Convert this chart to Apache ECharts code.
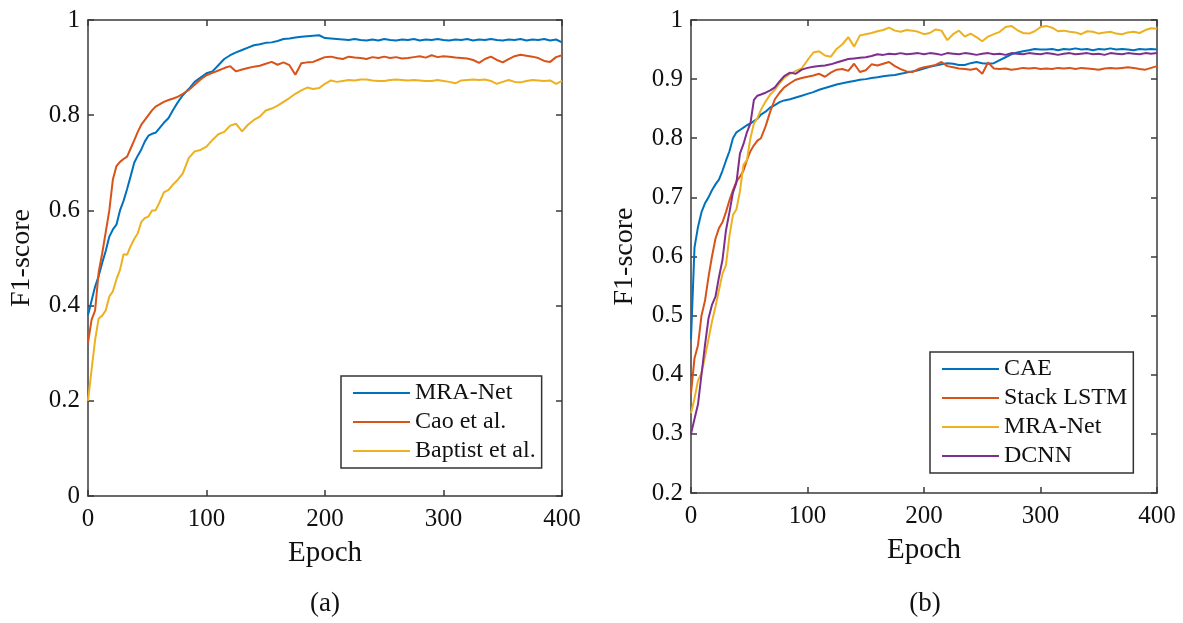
<!DOCTYPE html>
<html>
<head>
<meta charset="utf-8">
<script src="https://cdn.jsdelivr.net/npm/echarts@6.0.0/dist/echarts.min.js"></script>
<style>
  html, body { margin: 0; padding: 0; background: #fff; }
  #chartMain { width: 1183px; height: 623px; }
</style>
</head>
<body>
<div id="chartMain"></div>
<script>
// epochs shared by both panels
const epochs = [0, 3, 6, 9, 12, 15, 18, 21, 24, 27, 30, 33, 36, 39, 42, 45, 48, 51, 54, 57,
  60, 64, 68, 72, 76, 80, 85, 90, 95, 100,
  105, 110, 115, 120, 125, 130, 135, 140, 145, 150, 155, 160, 165, 170, 175, 180, 185, 190, 195, 200,
  205, 210, 215, 220, 225, 230, 235, 240, 245, 250, 255, 260, 265, 270, 275, 280, 285, 290, 295, 300,
  305, 310, 315, 320, 325, 330, 335, 340, 345, 350, 355, 360, 365, 370, 375, 380, 385, 390, 395, 400];

const xTicks = [0, 100, 200, 300, 400];

// panel (a)
const namesA = ['MRA-Net', 'Cao et al.', 'Baptist et al.'];
const mraNetA = [0.38, 0.41, 0.44, 0.462, 0.49, 0.515, 0.545, 0.56, 0.57, 0.60, 0.62, 0.645, 0.672, 0.70, 0.715, 0.728, 0.745, 0.757, 0.761, 0.763,
  0.772, 0.784, 0.794, 0.812, 0.828, 0.842, 0.855, 0.87, 0.879, 0.888,
  0.892, 0.905, 0.918, 0.926, 0.932, 0.937, 0.942, 0.947, 0.949, 0.952,
  0.953, 0.956, 0.96, 0.961, 0.963, 0.965, 0.966, 0.967, 0.968, 0.962,
  0.961, 0.96, 0.959, 0.958, 0.96, 0.958, 0.957, 0.959, 0.957, 0.96,
  0.958, 0.957, 0.959, 0.958, 0.96, 0.957, 0.959, 0.958, 0.96, 0.958,
  0.957, 0.959, 0.958, 0.96, 0.957, 0.959, 0.958, 0.96, 0.958, 0.957,
  0.959, 0.958, 0.96, 0.957, 0.959, 0.958, 0.96, 0.957, 0.959, 0.953];
const caoA = [0.322, 0.37, 0.39, 0.47, 0.51, 0.555, 0.60, 0.665, 0.693, 0.702, 0.708, 0.713, 0.73, 0.747, 0.765, 0.78, 0.79, 0.80, 0.81, 0.818,
  0.822, 0.828, 0.832, 0.835, 0.839, 0.845, 0.853, 0.864, 0.875, 0.884,
  0.889, 0.894, 0.899, 0.903, 0.892, 0.896, 0.899, 0.902, 0.904, 0.908,
  0.912, 0.906, 0.911, 0.905, 0.885, 0.909, 0.911, 0.912, 0.917, 0.922,
  0.923, 0.92, 0.918, 0.923, 0.921, 0.92, 0.918, 0.922, 0.92, 0.923,
  0.92, 0.922, 0.919, 0.92, 0.922, 0.924, 0.921, 0.926, 0.922, 0.924,
  0.923, 0.921, 0.92, 0.919, 0.916, 0.91, 0.918, 0.923, 0.916, 0.911,
  0.918, 0.924, 0.927, 0.925, 0.923, 0.92, 0.914, 0.912, 0.922, 0.926];
const baptistA = [0.20, 0.265, 0.328, 0.373, 0.379, 0.39, 0.419, 0.43, 0.455, 0.475, 0.508, 0.507, 0.525, 0.54, 0.552, 0.576, 0.584, 0.587, 0.60, 0.60,
  0.615, 0.638, 0.643, 0.655, 0.665, 0.678, 0.71, 0.724, 0.727, 0.734,
  0.748, 0.76, 0.765, 0.778, 0.782, 0.766, 0.78, 0.79, 0.797, 0.81,
  0.814, 0.82, 0.828, 0.836, 0.845, 0.852, 0.858, 0.855, 0.857, 0.866,
  0.873, 0.87, 0.872, 0.874, 0.873, 0.875, 0.875, 0.873, 0.872, 0.872,
  0.874, 0.875, 0.874, 0.873, 0.874, 0.873, 0.872, 0.872, 0.874, 0.872,
  0.87, 0.867, 0.873, 0.874, 0.875, 0.874, 0.875, 0.872, 0.866, 0.87,
  0.874, 0.87, 0.869, 0.872, 0.874, 0.873, 0.872, 0.873, 0.866, 0.872];

// panel (b)
const namesB = ['CAE', 'Stack LSTM', 'MRA-Net', 'DCNN'];
const caeB = [0.46, 0.615, 0.65, 0.675, 0.69, 0.70, 0.712, 0.722, 0.73, 0.745, 0.762, 0.778, 0.80, 0.81, 0.814, 0.818, 0.822, 0.825, 0.829, 0.833,
  0.84, 0.845, 0.852, 0.856, 0.861, 0.864, 0.866, 0.869, 0.872, 0.875,
  0.878, 0.882, 0.885, 0.888, 0.891, 0.893, 0.895, 0.897, 0.899, 0.90,
  0.902, 0.903, 0.905, 0.906, 0.907, 0.909, 0.911, 0.913, 0.915, 0.918,
  0.921, 0.923, 0.925, 0.927, 0.926, 0.924, 0.924, 0.927, 0.929, 0.927,
  0.926, 0.927, 0.932, 0.937, 0.942, 0.945, 0.947, 0.949, 0.951, 0.95,
  0.95, 0.951, 0.949, 0.951, 0.95, 0.952, 0.95, 0.951, 0.949, 0.951,
  0.95, 0.952, 0.95, 0.951, 0.95, 0.949, 0.951, 0.95, 0.951, 0.95];
const lstmB = [0.368, 0.428, 0.45, 0.50, 0.525, 0.565, 0.60, 0.63, 0.648, 0.658, 0.675, 0.695, 0.712, 0.727, 0.735, 0.745, 0.763, 0.778, 0.788, 0.796,
  0.80, 0.82, 0.845, 0.866, 0.877, 0.886, 0.893, 0.899, 0.902, 0.904,
  0.906, 0.909, 0.904, 0.911, 0.916, 0.917, 0.914, 0.926, 0.912, 0.915,
  0.925, 0.923, 0.926, 0.929, 0.922, 0.917, 0.913, 0.912, 0.917, 0.92,
  0.922, 0.924, 0.929, 0.922, 0.92, 0.918, 0.917, 0.916, 0.918, 0.909,
  0.928, 0.918, 0.917, 0.918, 0.916, 0.917, 0.919, 0.918, 0.919, 0.917,
  0.918, 0.917, 0.919, 0.918, 0.919, 0.917, 0.919, 0.918, 0.917, 0.916,
  0.918, 0.919, 0.918, 0.919, 0.92, 0.919, 0.917, 0.916, 0.919, 0.922];
const mraNetB = [0.335, 0.36, 0.39, 0.403, 0.43, 0.46, 0.49, 0.515, 0.543, 0.571, 0.585, 0.635, 0.67, 0.68, 0.71, 0.755, 0.763, 0.80, 0.825, 0.834,
  0.848, 0.862, 0.874, 0.882, 0.893, 0.902, 0.909, 0.914, 0.918, 0.932,
  0.945, 0.947, 0.94, 0.938, 0.951, 0.959, 0.971, 0.955, 0.974, 0.976,
  0.978, 0.981, 0.983, 0.987, 0.982, 0.98, 0.983, 0.982, 0.98, 0.976,
  0.978, 0.984, 0.982, 0.966, 0.976, 0.982, 0.972, 0.977, 0.971, 0.964,
  0.972, 0.976, 0.98, 0.988, 0.99, 0.983, 0.978, 0.977, 0.981, 0.988,
  0.99, 0.987, 0.981, 0.982, 0.98, 0.979, 0.976, 0.981, 0.98, 0.977,
  0.979, 0.98, 0.977, 0.976, 0.979, 0.98, 0.978, 0.983, 0.986, 0.985];
const dcnnB = [0.30, 0.325, 0.35, 0.40, 0.45, 0.495, 0.518, 0.532, 0.565, 0.594, 0.644, 0.675, 0.708, 0.725, 0.774, 0.79, 0.81, 0.825, 0.865, 0.872,
  0.874, 0.877, 0.881, 0.886, 0.896, 0.905, 0.911, 0.909, 0.916, 0.919,
  0.921, 0.922, 0.923, 0.925, 0.928, 0.931, 0.934, 0.935, 0.936, 0.937,
  0.939, 0.942, 0.941, 0.943, 0.942, 0.944, 0.942, 0.943, 0.944, 0.942,
  0.944, 0.943, 0.941, 0.944, 0.943, 0.942, 0.944, 0.943, 0.941, 0.943,
  0.944, 0.942, 0.943, 0.941, 0.944, 0.943, 0.942, 0.944, 0.943, 0.942,
  0.944, 0.943, 0.941, 0.943, 0.944, 0.942, 0.943, 0.944, 0.942, 0.943,
  0.941, 0.944, 0.943, 0.942, 0.944, 0.943, 0.942, 0.944, 0.943, 0.944];

// matlab default colours
const colordata = ['#0072BD', '#D95319', '#EDB120', '#7E2F8E'];
const fontFamily = "'Liberation Serif', 'Times New Roman', serif";
const axisColor = '#3a3a3a';

function pairs(vals) {
  return epochs.map((e, i) => [e, vals[i]]);
}

// one panel = bottom + top x axis, left + right y axis (matlab box with inner ticks)
function xAxes(grid) {
  const base = {
    gridIndex: grid, type: 'value', min: 0, max: 400, interval: 100,
    axisLine: { show: true, onZero: false, lineStyle: { color: axisColor, width: 1.5 } },
    axisTick: { show: true, inside: true, length: 6, lineStyle: { color: axisColor, width: 1.5 } },
    splitLine: { show: false }
  };
  return [
    Object.assign({}, base, {
      position: 'bottom',
      name: 'Epoch', nameLocation: 'middle', nameGap: 43,
      nameTextStyle: { fontFamily: fontFamily, fontSize: 29, color: '#111' },
      axisLabel: { margin: 11, fontFamily: fontFamily, fontSize: 25, color: '#111',
        formatter: v => xTicks.indexOf(v) >= 0 ? String(v) : '' }
    }),
    Object.assign({}, base, { position: 'top', axisLabel: { show: false } })
  ];
}

function yAxes(grid, min, interval, gap) {
  const base = {
    gridIndex: grid, type: 'value', min: min, max: 1, interval: interval,
    axisLine: { show: true, onZero: false, lineStyle: { color: axisColor, width: 1.5 } },
    axisTick: { show: true, inside: true, length: 6, lineStyle: { color: axisColor, width: 1.5 } },
    splitLine: { show: false }
  };
  return [
    Object.assign({}, base, {
      position: 'left',
      name: 'F1-score', nameLocation: 'middle', nameGap: gap,
      nameTextStyle: { fontFamily: fontFamily, fontSize: 28, color: '#111' },
      axisLabel: { margin: 8, fontFamily: fontFamily, fontSize: 25, color: '#111' }
    }),
    Object.assign({}, base, { position: 'right', axisLabel: { show: false } })
  ];
}

function lineSeries(name, vals, color, axisIdx) {
  return {
    name: name, type: 'line', data: pairs(vals),
    xAxisIndex: axisIdx, yAxisIndex: axisIdx,
    symbol: 'none', smooth: false, animation: false,
    lineStyle: { width: 2, color: color },
    itemStyle: { color: color }
  };
}

function legendBox(names, left, top) {
  return {
    orient: 'vertical', left: left, top: top,
    data: names,
    formatter: n => n.split(':')[1],
    icon: 'rect', itemWidth: 57, itemHeight: 2, itemGap: 5,
    padding: [5, 6, 5, 12],
    borderColor: '#333', borderWidth: 1.5,
    selectedMode: false,
    textStyle: { fontFamily: fontFamily, fontSize: 24, lineHeight: 24, color: '#111' }
  };
}

const myechart = echarts.init(document.getElementById('chartMain'));
const option = {
  backgroundColor: '#fff',
  animation: false,
  grid: [
    { left: 88, top: 20, right: 621, bottom: 127 },
    { left: 691, top: 20, right: 26, bottom: 130 }
  ],
  xAxis: xAxes(0).concat(xAxes(1)),
  yAxis: yAxes(0, 0, 0.2, 52).concat(yAxes(1, 0.2, 0.1, 52)),
  legend: [
    legendBox(namesA.map(n => 'a:' + n), 341, 376),
    legendBox(namesB.map(n => 'b:' + n), 930, 352)
  ],
  series: [
    lineSeries('a:' + namesA[0], mraNetA, colordata[0], 0),
    lineSeries('a:' + namesA[1], caoA, colordata[1], 0),
    lineSeries('a:' + namesA[2], baptistA, colordata[2], 0),
    lineSeries('b:' + namesB[0], caeB, colordata[0], 2),
    lineSeries('b:' + namesB[1], lstmB, colordata[1], 2),
    lineSeries('b:' + namesB[2], mraNetB, colordata[2], 2),
    lineSeries('b:' + namesB[3], dcnnB, colordata[3], 2)
  ],
  // panel captions
  graphic: [
    { type: 'text', x: 325, y: 604, style: { text: '(a)', textAlign: 'center', textVerticalAlign: 'middle', fontFamily: fontFamily, fontSize: 27, fill: '#111' } },
    { type: 'text', x: 925, y: 604, style: { text: '(b)', textAlign: 'center', textVerticalAlign: 'middle', fontFamily: fontFamily, fontSize: 27, fill: '#111' } }
  ]
};
myechart.setOption(option);
</script>
</body>
</html>
